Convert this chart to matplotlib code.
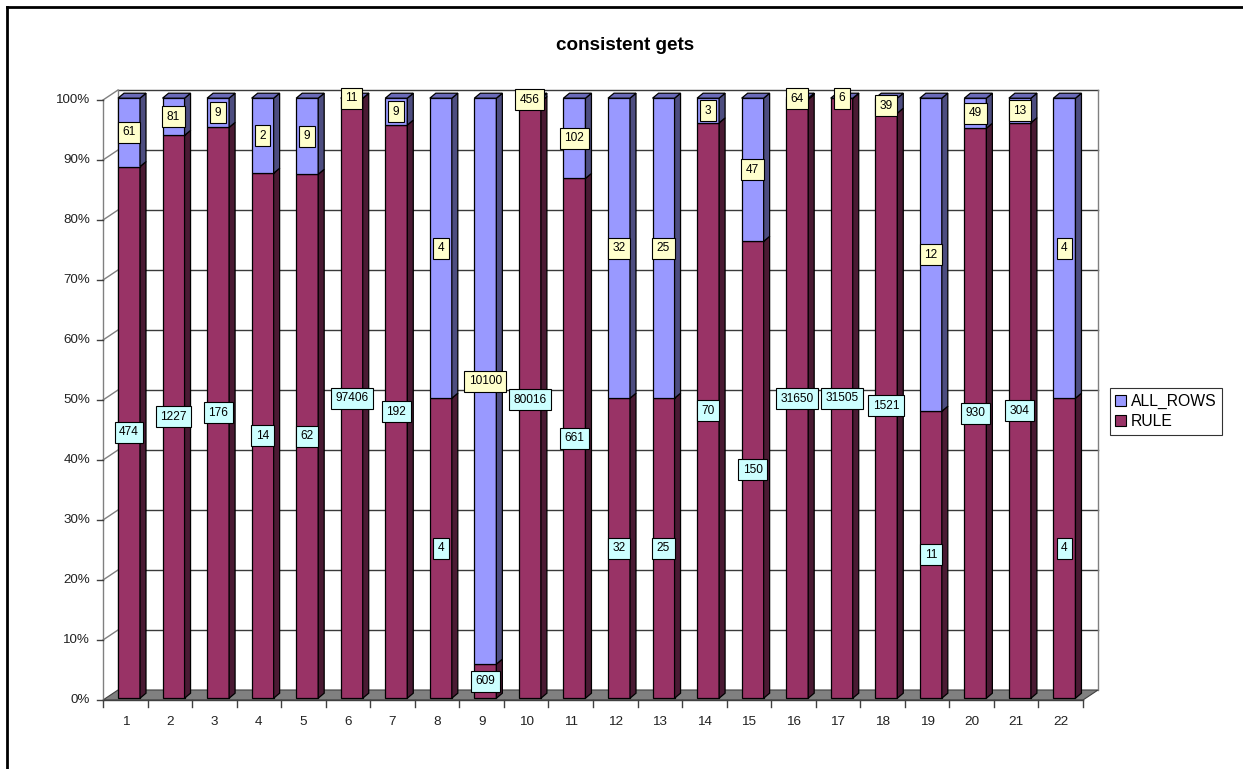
import matplotlib
matplotlib.use("Agg")
import matplotlib.pyplot as plt
from matplotlib.patches import Polygon, Patch
from matplotlib.lines import Line2D

plt.rcParams['font.family'] = ['Liberation Sans', 'DejaVu Sans']

categories = [str(i) for i in range(1, 23)]
rule = [474, 1227, 176, 14, 62, 97406, 192, 4, 609, 80016, 661,
        32, 25, 70, 150, 31650, 31505, 1521, 11, 930, 304, 4]
all_rows = [61, 81, 9, 2, 9, 11, 9, 4, 10100, 456, 102,
            32, 25, 3, 47, 64, 6, 39, 12, 49, 13, 4]
yticks = [0, 10, 20, 30, 40, 50, 60, 70, 80, 90, 100]

W, H = 1243, 769
fig = plt.figure(figsize=(W / 100, H / 100), dpi=100)
fig.patch.set_facecolor("white")

# plot area in pixels: front plane x 103..1083, y 700 (0%) .. 100 (100%)
ax = fig.add_axes([103 / W, 1 - 700 / H, 980 / W, 600 / H])
ax.set_xlim(0, len(categories))
ax.set_ylim(0, 100)
ax.axis("off")

pxx = 980 / len(categories)   # px per category
pxy = 6.0                     # px per percent
DX, DY = 15 / pxx, 10 / pxy   # wall depth
bdx, bdy = 6 / pxx, 5 / pxy   # bar depth
boff = 15 / pxx               # bar front-face left offset
bw = 22 / pxx                 # bar width
by0 = 0.3

grid_c = "#3a3a3a"
n = len(categories)


def poly(pts, fc, ec="black", lw=0.9, z=2):
    ax.add_patch(Polygon(pts, closed=True, fc=fc, ec=ec, lw=lw, zorder=z,
                         clip_on=False, joinstyle="miter"))


# walls and gridlines
for v in yticks[1:]:
    ax.plot([DX, n + DX], [v + DY, v + DY], color=grid_c, lw=1, zorder=1, clip_on=False)
    ax.plot([0, DX], [v, v + DY], color="#808080", lw=1, zorder=1, clip_on=False)
ax.plot([DX, DX], [DY, 100 + DY], color="#808080", lw=1, zorder=1, clip_on=False)
ax.plot([n + DX, n + DX], [DY, 100 + DY], color="#808080", lw=1, zorder=1, clip_on=False)

# floor
poly([(0, 0), (DX, DY), (n + DX, DY), (n, 0)], "#808080", ec="#404040", lw=0.8, z=1)

# axes lines and ticks
ax.plot([0, 0], [0, 100], color="#808080", lw=1, zorder=3, clip_on=False)
ax.plot([0, n], [0, 0], color="#404040", lw=1, zorder=3, clip_on=False)
for v in yticks:
    ax.plot([-0.135, 0], [v, v], color="#404040", lw=1, zorder=3, clip_on=False)
    ax.text(-0.29, v, f"{v}%", ha="right", va="center", fontsize=9.6,
            color="#222222", clip_on=False)
for i in range(n + 1):
    ax.plot([i, i], [0, -1.2], color="#404040", lw=1, zorder=3, clip_on=False)
for i, c in enumerate(categories):
    ax.text(i + 0.5, -3.7, c, ha="center", va="center", fontsize=9.7, color="#222222")

# bars
series = [
    (rule, "#993366", "#4a1a33", "#7a2952", "#CCFFFF"),
    (all_rows, "#9999FF", "#4d4d80", "#6a6ab8", "#FFFFCC"),
]
for i in range(n):
    total = rule[i] + all_rows[i]
    x0 = i + boff
    x1 = x0 + bw
    base = by0
    labels = []
    for k, (vals, fc, sc, tc, lc) in enumerate(series):
        h = vals[i] / total * 100
        top = base + h
        poly([(x0, base), (x1, base), (x1, top), (x0, top)], fc, z=4)
        poly([(x1, base), (x1 + bdx, base + bdy), (x1 + bdx, top + bdy), (x1, top)], sc, z=4)
        if k == len(series) - 1:
            poly([(x0, top), (x1, top), (x1 + bdx, top + bdy), (x0 + bdx, top + bdy)], tc, z=4)
        labels.append((x0 + bw / 2, base + h / 2, vals[i], lc))
        base = top
    for lx, ly, val, lc in labels:
        ax.text(lx, ly, str(val), ha="center", va="center", fontsize=8.6, zorder=6,
                bbox=dict(boxstyle="square,pad=0.38", fc=lc, ec="black", lw=0.8),
                clip_on=False)

# title
fig.text(625 / W, 1 - 45 / H, "consistent gets", ha="center", va="center",
         fontsize=13.6, fontweight="bold")

# legend
handles = [Patch(fc="#9999FF", ec="black", lw=0.8, label="ALL_ROWS"),
           Patch(fc="#993366", ec="black", lw=0.8, label="RULE")]
leg = fig.legend(handles=handles, loc="center left",
                 bbox_to_anchor=(1110 / W, 1 - 411.5 / H), frameon=True,
                 fancybox=False, edgecolor="black", fontsize=11.3,
                 handlelength=0.7, handleheight=0.7, handletextpad=0.3,
                 borderpad=0.35, labelspacing=0.35, borderaxespad=0)
leg.get_frame().set_linewidth(0.8)

# outer chart frame (left and top edges visible)
fig.add_artist(Line2D([7 / W, 7 / W], [0, 1 - 7 / H], transform=fig.transFigure,
                      color="black", lw=2))
fig.add_artist(Line2D([7 / W, 1], [1 - 7 / H, 1 - 7 / H], transform=fig.transFigure,
                      color="black", lw=2))

fig.savefig("out.png", dpi=100, facecolor="white")
